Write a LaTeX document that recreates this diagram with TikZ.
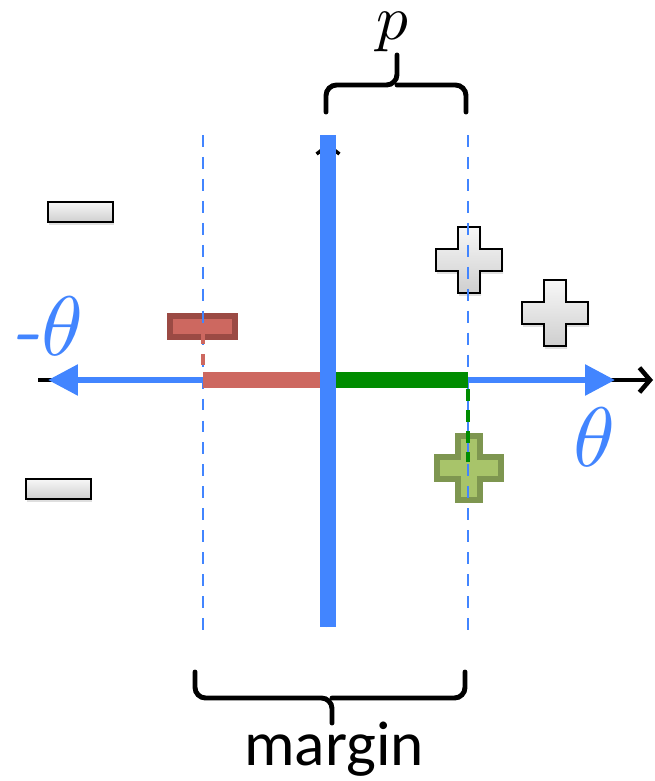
\documentclass[tikz,border=0pt]{standalone}
\usepackage{fontspec}
\newfontfamily\marginfont{Carlito}
\usetikzlibrary{arrows.meta,shadows}
\definecolor{axblue}{RGB}{66,133,255}
\definecolor{redfill}{RGB}{205,104,96}
\definecolor{redline}{RGB}{155,74,68}
\definecolor{grbar}{RGB}{0,140,0}
\definecolor{grfill}{RGB}{168,196,106}
\definecolor{grline}{RGB}{126,150,80}
\newcommand{\myplus}[5]{%
 \draw[#5] ({#1-#4},{#2-#3}) -- ({#1+#4},{#2-#3}) -- ({#1+#4},{#2-#4}) -- ({#1+#3},{#2-#4}) -- ({#1+#3},{#2+#4}) -- ({#1+#4},{#2+#4}) -- ({#1+#4},{#2+#3}) -- ({#1-#4},{#2+#3}) -- ({#1-#4},{#2+#4}) -- ({#1-#3},{#2+#4}) -- ({#1-#3},{#2-#4}) -- ({#1-#4},{#2-#4}) -- cycle;}
\tikzset{
 grayshape/.style={draw=black, line width=1.3pt, top color=gray!6, bottom color=gray!38,
   drop shadow={opacity=0.25, shadow xshift=0.6pt, shadow yshift=-1.6pt}},
 greenshape/.style={draw=grline, line width=3.6pt, fill=grfill,
   drop shadow={opacity=0.2, shadow xshift=0.6pt, shadow yshift=-1.6pt}},
 redshape/.style={draw=redline, line width=3pt, fill=redfill,
   drop shadow={opacity=0.2, shadow xshift=0.6pt, shadow yshift=-1.6pt}},
 guide/.style={axblue, line width=1.7pt, dash pattern=on 6.8pt off 5.7pt},
 bracestyle/.style={line width=2.8pt, rounded corners=6pt, line cap=round},
 lbl/.style={inner sep=0pt},
}
\begin{document}
\begin{tikzpicture}[x=0.02cm,y=-0.02cm]
\useasboundingbox (0,0) rectangle (654,781);
% shapes
\draw[grayshape] (48,202) rectangle (113,222);
\draw[grayshape] (26,479) rectangle (91,499);
\myplus{469}{260}{33}{11}{grayshape}
\myplus{555}{313}{33}{11}{grayshape}
\myplus{469}{468}{32}{11}{greenshape}
\draw[redshape] (170,316) rectangle (235,337);
% key coordinates
\coordinate (LT) at (203,135);
\coordinate (LB) at (203,630);
\coordinate (RT) at (468,135);
\coordinate (RB) at (468,630);
\coordinate (AxL) at (38,380);
\coordinate (AxR) at (653,380);
\coordinate (L) at (203,380);
\coordinate (R) at (468,380);
\coordinate (C) at (328,380);
\coordinate (BlL) at (48,380);
\coordinate (BlR) at (615,380);
\coordinate (VT) at (328,135);
\coordinate (VB) at (328,627);
\coordinate (VTip) at (328,143);
% guides
\draw[guide] (LT) -- (LB);
\draw[guide] (RT) -- (RB);
\draw[redfill, line width=1.8pt, dash pattern=on 6pt off 6pt] (203,333) -- (203,372);
\draw[grbar, line width=1.8pt, dash pattern=on 7pt off 5pt] (468,389) -- (468,462);
% axes
\draw[black, line width=2.6pt, -{Straight Barb[length=6pt,width=14pt]}] (AxL) -- (AxR);
\draw[axblue, line width=3.3pt, -{Triangle[length=17pt,width=17pt]}] (L) -- (BlL);
\draw[axblue, line width=3.3pt, -{Triangle[length=17pt,width=17pt]}] (R) -- (BlR);
\draw[redfill, line width=9pt] (L) -- (325,380);
\draw[grbar, line width=9pt] (331,380) -- (R);
\draw[black, line width=2pt, -{Straight Barb[length=5pt,width=13pt]}] (VB) -- (VTip);
\draw[axblue, line width=9pt] (VT) -- (VB);
% braces
\draw[bracestyle] (326,112) -- (326,85) -- (397,85) -- (397,55);
\draw[bracestyle] (466,112) -- (466,85) -- (397,85);
\draw[bracestyle] (195,672) -- (195,698) -- (332,698) -- (332,723);
\draw[bracestyle] (465,672) -- (465,698) -- (332,698);
% labels
\node[lbl, scale=3.6] (p) at (392,32) {$p$};
\node[lbl, text=axblue, scale=4.8] (mt) at (47,326) {\textit{-}$\theta$};
\node[lbl, text=axblue, scale=4.8] (t) at (594,437) {$\theta$};
\node[lbl, anchor=base] (m) at (334,765) {\fontsize{36}{40}\selectfont\marginfont margin};
\end{tikzpicture}
\end{document}
